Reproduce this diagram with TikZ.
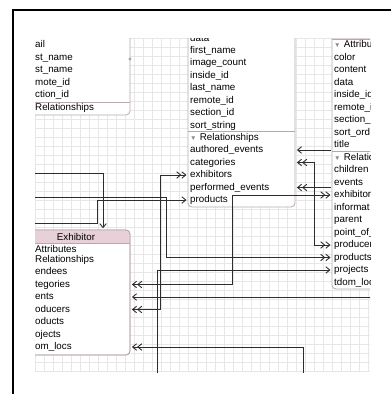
\documentclass[tikz,border=0pt]{standalone}
\usepackage{fontspec}
\setmainfont{Liberation Sans}
\usetikzlibrary{arrows.meta}
\definecolor{rand}{RGB}{184,168,174}
\definecolor{testa}{RGB}{231,208,216}
\definecolor{griglia}{RGB}{231,231,231}
\definecolor{filo}{RGB}{45,45,45}
\newcommand{\giu}{{\color{black!45}\fontsize{6.5}{6.5}\selectfont ▼}}
\tikzset{
  box/.style  = {draw=rand, fill=white, line width=0.8pt, rounded corners=4pt},
  sep/.style  = {draw=rand, line width=0.7pt},
  row/.style  = {anchor=west, inner xsep=2pt, inner ysep=0pt, text height=7pt, text depth=2pt, align=left, font=\fontsize{9.8}{11}\selectfont},
  lt/.style   = {row, text width=93pt},
  mid/.style  = {row, text width=103pt},
  rt/.style   = {row, text width=56pt},
  xb/.style   = {row, text width=93pt},
  head/.style = {minimum width=108pt, minimum height=13pt, inner sep=0pt, font=\fontsize{9.8}{11}\selectfont},
  link/.style = {draw=filo, line width=0.9pt, shorten >=1.5pt, shorten <=1.5pt},
  >={Straight Barb[length=4pt,width=6.5pt]}
}

\begin{document}
\begin{tikzpicture}[x=1pt,y=-1pt]

  \useasboundingbox (0,0) rectangle (391,394);

  \begin{scope}
  \clip (35,38) rectangle (370,372);
  \foreach \gx in {35,44,...,370} \draw[griglia] (\gx,38) -- (\gx,372);
  \foreach \gy in {38,47,...,372} \draw[griglia] (35,\gy) -- (370,\gy);

  % ---- box top left ----
  \draw[box] (20,20) rectangle (130,115);
  \draw[sep] (20,102) -- (130,102);
  \fill[black!35] (130,59) circle (1.6);
  \node[lt] (le)   at (33,45)   {ail};
  \node[lt] (lf)   at (33,57.5) {st\_name};
  \node[lt] (ll)   at (33,70)   {st\_name};
  \node[lt] (lr)   at (33,82.5) {mote\_id};
  \node[lt] (ls)   at (33,95)   {ction\_id};
  \node[lt] (lrel) at (33,108)  {Relationships};

  % ---- box middle ----
  \draw[box] (188,20) rectangle (295,207);
  \draw[sep] (188,131.5) -- (295,131.5);
  \node[mid] (da)  at (188,38.5)  {data};
  \node[mid] (fn)  at (188,50.5)  {first\_name};
  \node[mid] (ic)  at (188,63)    {image\_count};
  \node[mid] (ii)  at (188,75.5)  {inside\_id};
  \node[mid] (ln)  at (188,88)    {last\_name};
  \node[mid] (ri)  at (188,100.5) {remote\_id};
  \node[mid] (si)  at (188,113)   {section\_id};
  \node[mid] (ss)  at (188,125.5) {sort\_string};
  \node[mid] (rel) at (188,137.5) {{\giu} Relationships};
  \node[mid] (ae)  at (188,150)   {authored\_events};
  \node[mid] (ca)  at (188,162.5) {categories};
  \node[mid] (ex)  at (188,175)   {exhibitors};
  \node[mid] (pe)  at (188,187.5) {performed\_events};
  \node[mid] (pr)  at (188,200)   {products};

  % ---- box right ----
  \draw[box] (332,20) rectangle (390,289);
  \fill[testa] (332.5,20) rectangle (389.5,39.5);
  \draw[sep] (332,39.5) -- (390,39.5);
  \draw[sep] (332,151) -- (390,151);
  \node[rt] (rat) at (332,45)    {{\giu} Attribu};
  \node[rt] (rco) at (332,57.5)  {color};
  \node[rt] (rcn) at (332,70)    {content};
  \node[rt] (rda) at (332,82.5)  {data};
  \node[rt] (rii) at (332,95)    {inside\_id};
  \node[rt] (rri) at (332,107.5) {remote\_i};
  \node[rt] (rsi) at (332,120)   {section\_};
  \node[rt] (rso) at (332,132.5) {sort\_ord};
  \node[rt] (rti) at (332,145)   {title};
  \node[rt] (rre) at (332,157.5) {{\giu} Relatio};
  \node[rt] (rch) at (332,170)   {children};
  \node[rt] (rev) at (332,182.5) {events};
  \node[rt] (rex) at (332,195)   {exhibitor};
  \node[rt] (rin) at (332,207.5) {informat};
  \node[rt] (rpa) at (332,220)   {parent};
  \node[rt] (rpo) at (332,232.5) {point\_of\_};
  \node[rt] (rpc) at (332,245)   {producer};
  \node[rt] (rpd) at (332,257.5) {products};
  \node[rt] (rpj) at (332,270)   {projects};
  \node[rt] (rtd) at (332,282.5) {tdom\_loc};

  % ---- box Exhibitor ----
  \draw[box] (20,230) rectangle (130,355);
  \begin{scope}
    \clip[rounded corners=4pt] (20,230) rectangle (130,355);
    \fill[testa] (20,230) rectangle (130,243);
  \end{scope}
  \draw[box, fill=none] (20,230) rectangle (130,355);
  \draw[sep] (20,243) -- (130,243);
  \node[head] (xh) at (76,236.5) {Exhibitor};
  \node[xb] (xat) at (33,249.5) {Attributes};
  \node[xb] (xre) at (33,260)   {Relationships};
  \node[xb] (xen) at (33,272)   {endees};
  \node[xb] (xca) at (33,284.5) {tegories};
  \node[xb] (xev) at (33,297)   {ents};
  \node[xb] (xpc) at (33,309.5) {oducers};
  \node[xb] (xpd) at (33,322)   {oducts};
  \node[xb] (xpj) at (33,334.5) {ojects};
  \node[xb] (xtd) at (33,347)   {om\_locs};

  % ---- connectors ----
  \coordinate (l1) at (33,173);
  \coordinate (l2) at (33,197);
  \coordinate (l3) at (33,223);
  \coordinate (b1) at (157,374);
  \coordinate (b2) at (303,374);
  \coordinate (r1) at (372,297);

  \draw[link,->]    (l1) -| ([xshift=27pt]xh.north);
  \draw[link,->>]   (l2) -- (166,197) |- (rpd.west);
  \draw[link,->]    (l3) -- (97,223) |- (pr.west);
  \draw[link,->]    (b1) |- (rpj.west);
  \draw[link,<<->>] (xpc.east) -- ++(30,0) |- (ex.west);
  \draw[link,<<->>] (xca.east) -- ++(102,0) |- (rex.west);
  \draw[link,<-]    (xev.east) -- (xev.east -| r1);
  \draw[link,<<-]   (xtd.east) -| (b2);
  \draw[link,<-]    (ae.east) -- (ae.east -| rti.west);
  \draw[link,<<->>] (ca.east) -- ++(19,0) |- (rpc.west);
  \draw[link,<<-]   (pe.east) -- (pe.east -| rev.west);
  \end{scope}

  % ---- frame ----
  \draw[line width=1.3pt] (13,394) -- (13,10) -- (391,10);

\end{tikzpicture}
\end{document}
